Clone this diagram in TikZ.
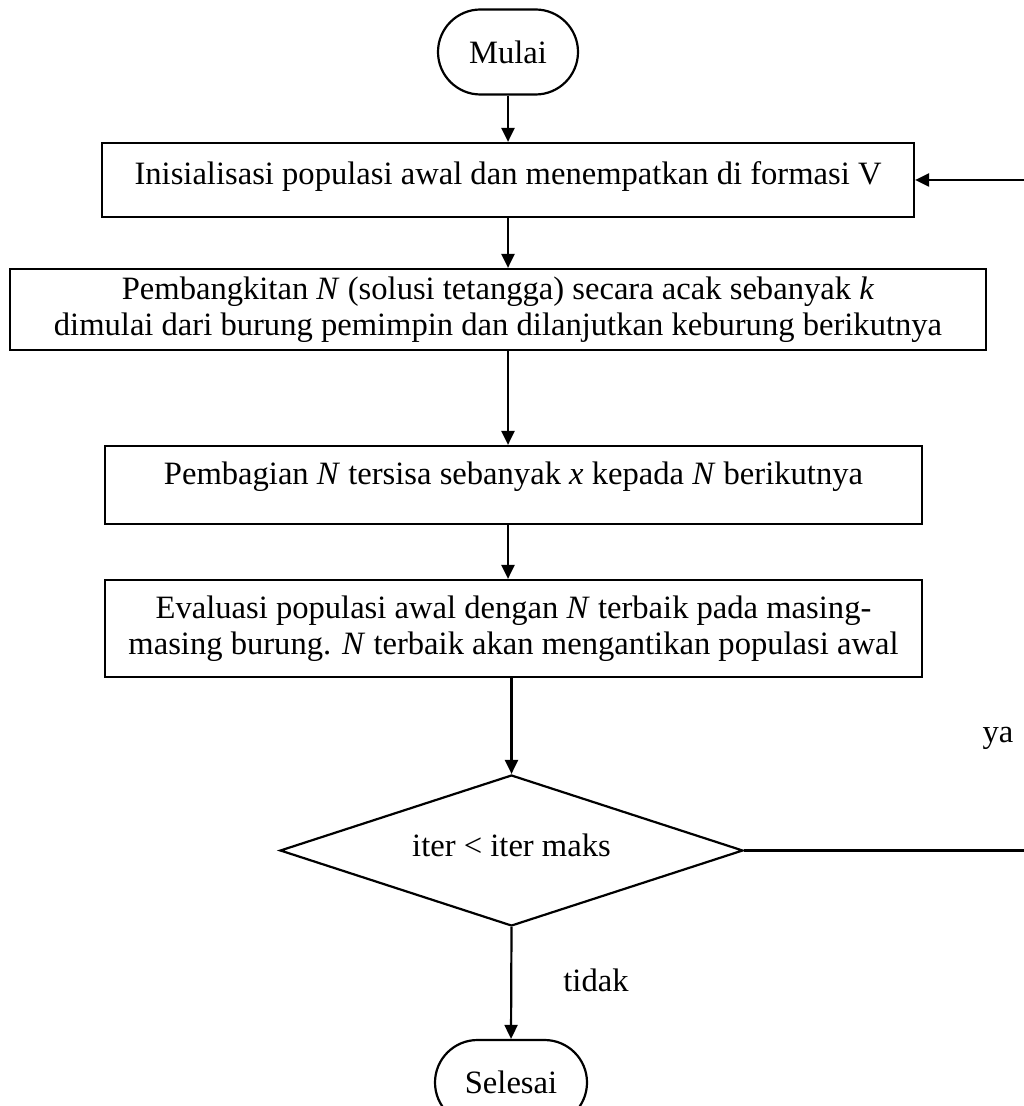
\documentclass[tikz,border=0pt]{standalone}
\usepackage{fontspec}
\setmainfont{Liberation Serif}
\usetikzlibrary{arrows.meta,shapes.misc,shapes.geometric}

\begin{document}
\begin{tikzpicture}[x=0.5pt,y=-0.5pt,
  every node/.style={font=\fontsize{16.3}{18}\selectfont},
  line/.style={line width=1.1pt,draw=black},
  flow/.style={line, -{Triangle[length=7pt,width=6.5pt]}},
  procbox/.style={line, rectangle, align=center, inner sep=0pt},
  terminal/.style={line, rounded rectangle, inner sep=0pt},
  decision/.style={line, diamond, inner sep=0pt},
  note/.style={inner sep=0pt}]

  % page frame
  \useasboundingbox (0,0) rectangle (1023,1106);

  % start and end terminals
  \node[terminal, minimum width=70pt, minimum height=42.5pt] (mulai) at (508,52) {Mulai};
  \node[terminal, minimum width=76pt, minimum height=42.5pt] (selesai) at (511,1082.5) {Selesai};

  % process steps
  \node[procbox, minimum width=406pt, minimum height=37pt, text depth=7pt]
    (init) at (508,180) {Inisialisasi populasi awal dan menempatkan di formasi V};
  \node[procbox, minimum width=488pt, minimum height=40.5pt]
    (bangkit) at (498,309.5) {Pembangkitan \textit{N} (solusi tetangga) secara acak sebanyak \textit{k}\\
      dimulai dari burung pemimpin dan dilanjutkan keburung berikutnya};
  \node[procbox, minimum width=408.5pt, minimum height=39pt, text depth=12pt]
    (bagi) at (513.5,485) {Pembagian \textit{N} tersisa sebanyak \textit{x} kepada \textit{N} berikutnya};
  \node[procbox, minimum width=408.5pt, minimum height=48.5pt]
    (eval) at (513.5,628.5) {Evaluasi populasi awal dengan \textit{N} terbaik pada masing-\\
      masing burung. \textit{N} terbaik akan mengantikan populasi awal};

  % loop condition
  \node[decision, minimum width=231.5pt, minimum height=75.5pt, aspect=3.07]
    (cek) at (511.5,850.5) {\raisebox{5pt}{iter < iter maks}};

  % branch labels
  \node[note] (ya) at (998,738) {ya};
  \node[note] (tidak) at (596,980) {tidak};

  % return path of the loop, running just past the page edge
  \coordinate (kanan) at (1040,850.5);

  % connectors
  \draw[flow] (mulai.south) -- (mulai.south |- init.north);
  \draw[flow] (init.south) -- (init.south |- bangkit.north);
  \draw[flow] (init.south |- bangkit.south) -- (init.south |- bagi.north);
  \draw[flow] (init.south |- bagi.south) -- (init.south |- eval.north);
  \draw[flow] (cek.north |- eval.south) -- (cek.north);
  \draw[flow] (cek.south) -- (selesai.north);
  \draw[flow] (cek.east) -- (kanan) |- (init.east);
\end{tikzpicture}
\end{document}
